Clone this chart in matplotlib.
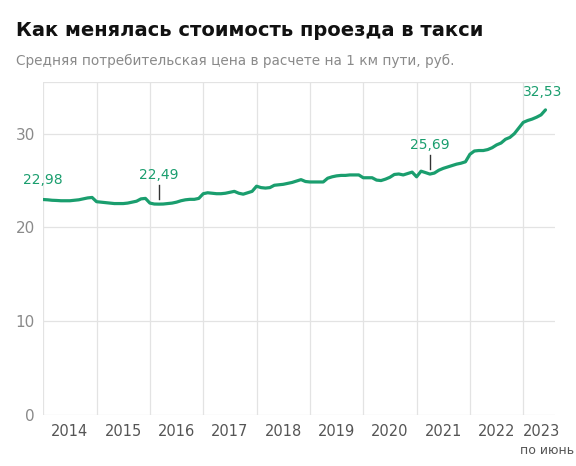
import matplotlib
matplotlib.use("Agg")
import matplotlib.pyplot as plt
import numpy as np

values = [22.98,22.95,22.9,22.88,22.85,22.85,22.85,22.9,22.95,23.05,23.15,23.2,
          22.75,22.7,22.65,22.6,22.55,22.55,22.55,22.6,22.7,22.8,23.05,23.1,
          22.6,22.5,22.49,22.5,22.55,22.6,22.7,22.85,22.95,23.0,23.0,23.1,
          23.6,23.7,23.65,23.6,23.6,23.65,23.75,23.85,23.65,23.55,23.7,23.85,
          24.4,24.25,24.2,24.25,24.5,24.55,24.6,24.7,24.8,24.95,25.1,24.9,
          24.85,24.85,24.85,24.85,25.25,25.4,25.5,25.55,25.55,25.6,25.6,25.6,
          25.3,25.3,25.3,25.05,25.0,25.15,25.35,25.65,25.7,25.6,25.75,25.9,
          25.4,26.0,25.85,25.69,25.8,26.1,26.3,26.45,26.6,26.75,26.85,27.0,
          27.8,28.15,28.2,28.2,28.3,28.5,28.8,29.0,29.4,29.6,30.0,30.6,
          31.2,31.4,31.55,31.75,32.0,32.53]
years = [2014,2015,2016,2017,2018,2019,2020,2021,2022,2023]
yticks = [0,10,20,30]
annotations = [(0,"22,98"),(26,"22,49"),(87,"25,69"),(113,"32,53")]

green = "#1a9e6e"
t = 2014 + np.arange(len(values))/12.0

fig = plt.figure(figsize=(5.76,4.66), dpi=100)
ax = fig.add_axes([0.075,0.109,0.889,0.715])
ax.plot(t, values, color=green, lw=2.3, solid_capstyle="round", zorder=3)
ax.set_xlim(2014, 2023.6)
ax.set_ylim(0, 35.5)
for y in yticks:
    ax.axhline(y, color="#e3e3e3", lw=0.9, zorder=1)
ax.axhline(35.5, color="#e3e3e3", lw=0.9, zorder=1)
for yr in years:
    ax.axvline(yr, color="#e3e3e3", lw=0.9, zorder=1)
for s in ax.spines.values():
    s.set_visible(False)
ax.set_yticks(yticks)
ax.set_yticklabels([str(v) for v in yticks], color="#8a8a8a", fontsize=11)
ax.set_xticks([y+0.5 for y in years[:-1]] + [2023.35])
ax.set_xticklabels([str(y) for y in years], color="#555555", fontsize=10.5)
ax.tick_params(length=0, pad=6)
ax.text(2023.45, -0.085, "по июнь", transform=ax.get_xaxis_transform(), ha="center", va="top", fontsize=9, color="#555555")

for i, lab in annotations:
    x, v = t[i], values[i]
    if i in (26, 87):
        ax.plot([x, x], [v+0.5, v+2.0], color="#333333", lw=1.0, zorder=4)
        ax.text(x, v+2.4, lab, ha="center", va="bottom", color=green, fontsize=10)
    elif i == 0:
        ax.text(x, v+1.3, lab, ha="center", va="bottom", color=green, fontsize=10)
    else:
        ax.text(x-0.05, v+1.2, lab, ha="center", va="bottom", color=green, fontsize=10)

fig.text(0.028, 0.955, "Как менялась стоимость проезда в такси", fontsize=14, fontweight="bold", ha="left", va="top", color="#111111")
fig.text(0.028, 0.885, "Средняя потребительская цена в расчете на 1 км пути, руб.", fontsize=9.8, ha="left", va="top", color="#8a8a8a")
fig.savefig("out.png", dpi=100)
